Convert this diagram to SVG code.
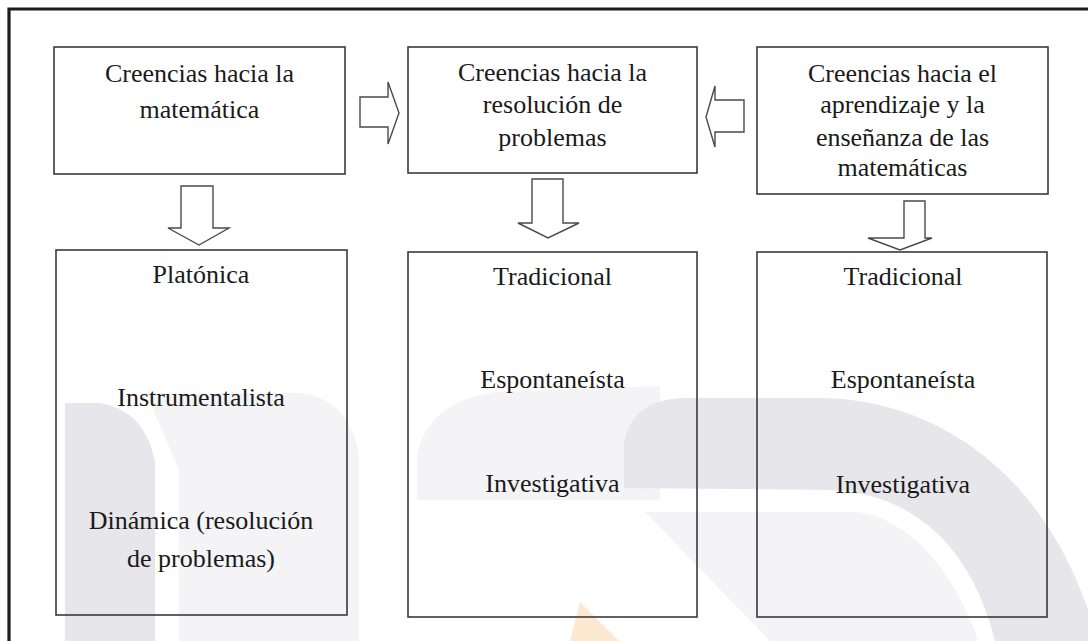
<svg xmlns="http://www.w3.org/2000/svg" width="1088" height="641" viewBox="0 0 1088 641">
<style>
.box{fill:none;stroke:#3a3a3a;stroke-width:1.6}
.arr{fill:#ffffff;stroke:#4a4a4a;stroke-width:1.4;stroke-linejoin:miter}
.t{font-family:"Liberation Serif","Times New Roman",serif;font-size:26px;fill:#1a1a1a;text-anchor:middle}
.wmd{fill:#e6e6eb}
.wml{fill:#f4f4f7}
</style>
<rect x="0" y="0" width="1088" height="641" fill="#ffffff"/>
<g id="watermark">
<path class="wml" d="M146,393 L300,393 Q352,400 359,458 L359,641 L179,641 L179,470 Z"/>
<path class="wmd" d="M65,403 L100,403 Q145,410 155,462 L155,641 L65,641 Z"/>
<path class="wml" d="M417,500 L417,455 Q428,402 495,392 L660,386 L660,500 Z"/>
<path class="wml" d="M645,512 L857,512 C915,520 958,580 978,641 L770,641 Z"/>
<path class="wmd" d="M624,488 L624,445 Q630,400 683,398 L822,398 C935,400 1040,470 1088,610 L1088,641 L995,641 C975,560 925,495 832,490 Z"/>
<path d="M580,602 L619,641 L570,641 Z" fill="#fde8d2"/>
</g>
<g id="frame">
<path d="M9,641 L9,9 L1088,9" fill="none" stroke="#1c1c1c" stroke-width="3.2"/>
</g>
<g id="connectors">
<path class="arr" d="M181,186 L213,186 L213,228 L229,228 L199,245 L168,228 L181,228 Z"/>
<path class="arr" d="M532,179 L563,179 L563,223 L579,223 L548,238 L518,223 L532,223 Z"/>
<path class="arr" d="M904,201 L925,201 L925,238 L932,238 L900,250 L868,238 L904,238 Z"/>
<path class="arr" d="M360,97 L388,97 L388,82 L399,113 L388,144 L388,127 L360,127 Z"/>
<path class="arr" d="M744,100 L715,100 L715,86 L706,117 L715,147 L715,132 L744,132 Z"/>
</g>
<g id="node-matematica">
<rect class="box" x="54" y="47" width="291" height="127"/>
<text class="t" x="199.5" y="82">Creencias hacia la</text>
<text class="t" x="199.5" y="118">matemática</text>
</g>
<g id="node-resolucion">
<rect class="box" x="408" y="47" width="289" height="126"/>
<text class="t" x="552.5" y="81">Creencias hacia la</text>
<text class="t" x="552.5" y="113">resolución de</text>
<text class="t" x="552.5" y="146">problemas</text>
</g>
<g id="node-aprendizaje">
<rect class="box" x="757" y="47" width="291" height="147"/>
<text class="t" x="902.5" y="82">Creencias hacia el</text>
<text class="t" x="902.5" y="113">aprendizaje y la</text>
<text class="t" x="902.5" y="146">enseñanza de las</text>
<text class="t" x="902.5" y="176">matemáticas</text>
</g>
<g id="node-platonica">
<rect class="box" x="56" y="250" width="291" height="365"/>
<text class="t" x="201" y="283">Platónica</text>
<text class="t" x="201" y="406">Instrumentalista</text>
<text class="t" x="201" y="529">Dinámica (resolución</text>
<text class="t" x="201" y="567">de problemas)</text>
</g>
<g id="node-tradicional-1">
<rect class="box" x="408" y="252" width="289" height="365"/>
<text class="t" x="552.5" y="285">Tradicional</text>
<text class="t" x="552.5" y="388">Espontaneísta</text>
<text class="t" x="552.5" y="492">Investigativa</text>
</g>
<g id="node-tradicional-2">
<rect class="box" x="757" y="252" width="290" height="365"/>
<text class="t" x="903" y="285">Tradicional</text>
<text class="t" x="903" y="388">Espontaneísta</text>
<text class="t" x="903" y="493">Investigativa</text>
</g>
</svg>
